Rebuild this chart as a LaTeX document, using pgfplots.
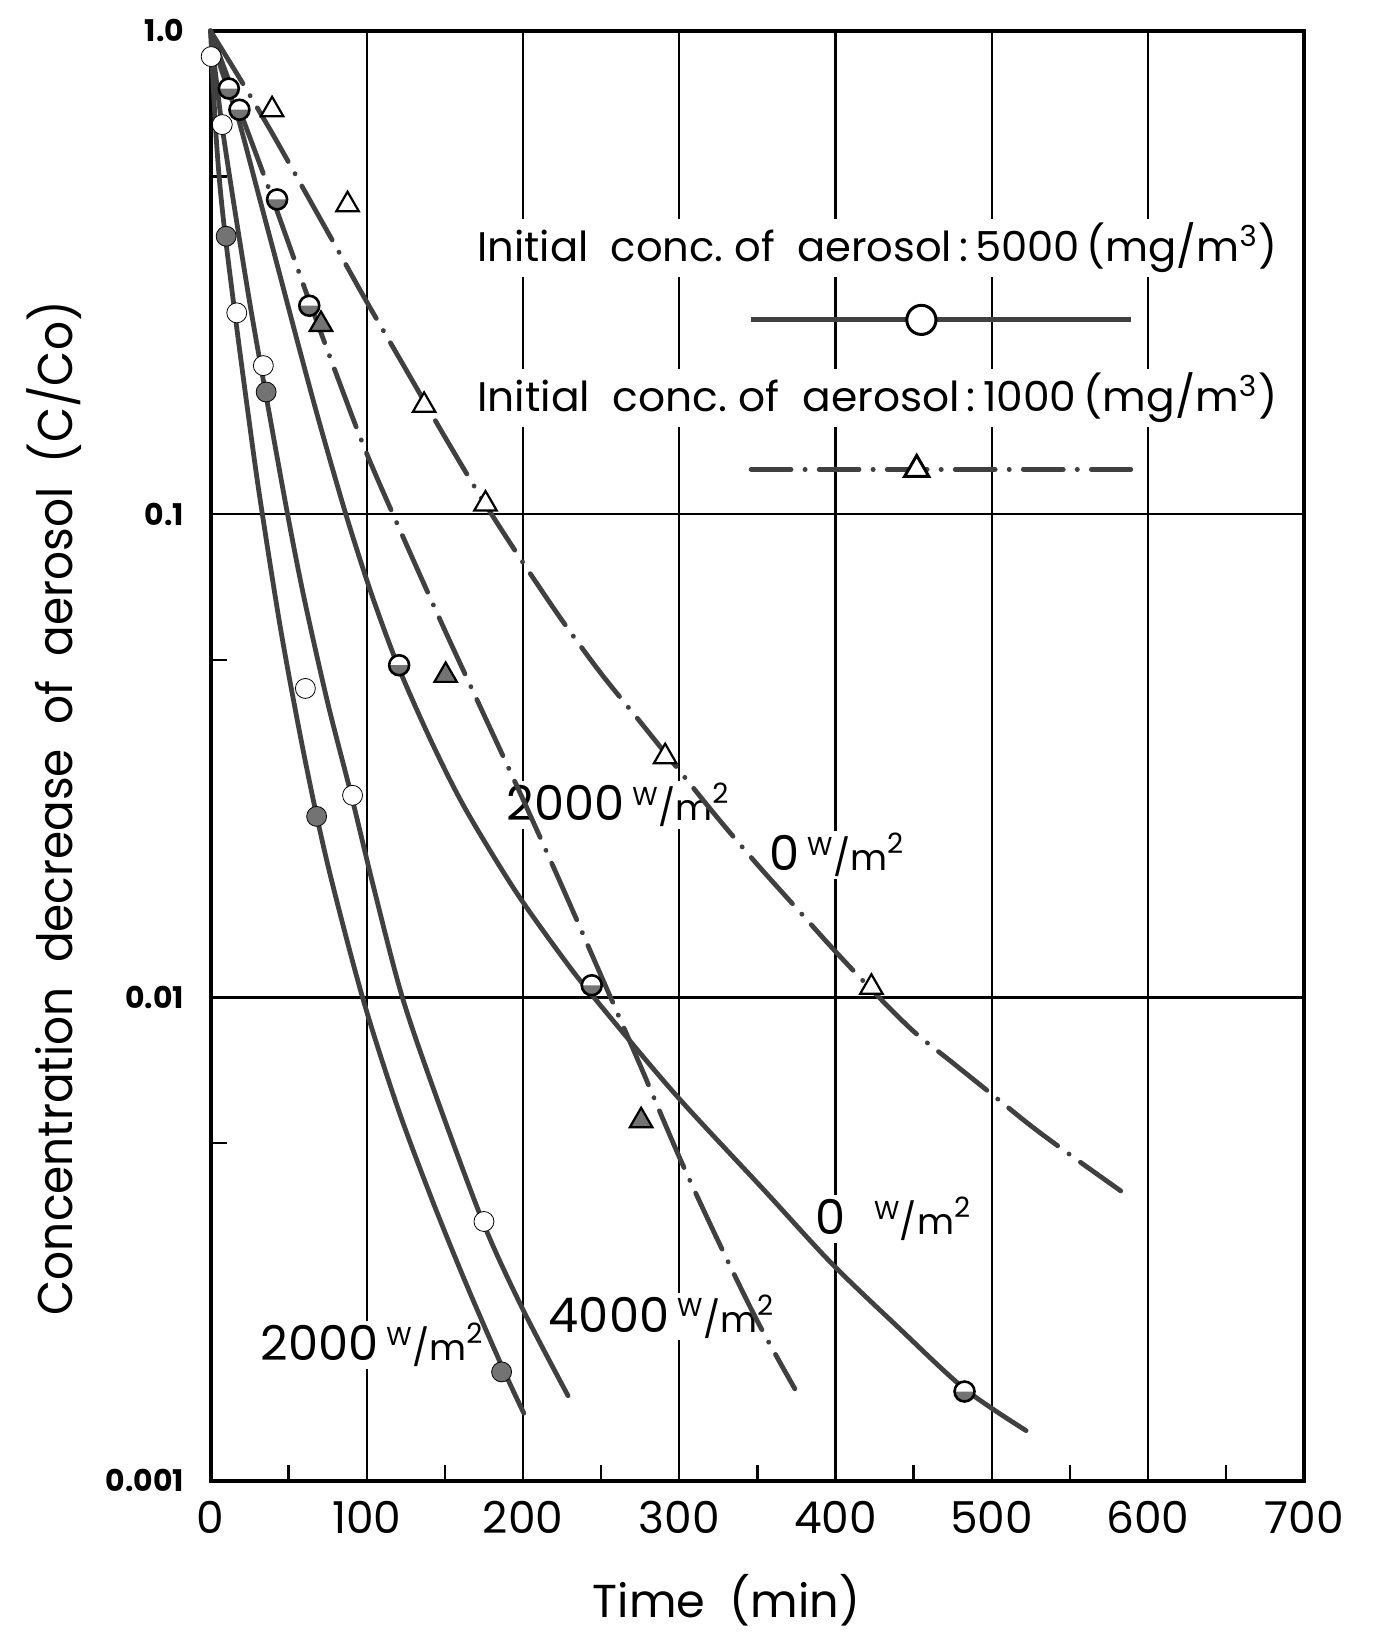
\documentclass[border=0pt]{standalone}
\usepackage{fontspec}
\setmainfont{Poppins}
\usepackage{graphicx}
\usepackage{pgfplots}
\pgfplotsset{compat=1.18}

% circle with the lower half shaded
\pgfdeclareplotmark{lowhalf}{%
  \begin{pgfscope}
  \pgfpathcircle{\pgfpointorigin}{\pgfplotmarksize}
  \pgfsetfillcolor{white}\pgfusepathqfill
  \pgfpathmoveto{\pgfpoint{-\pgfplotmarksize}{0pt}}
  \pgfpatharc{180}{360}{\pgfplotmarksize}
  \pgfpathclose
  \pgfsetfillcolor{black!55}\pgfusepathqfill
  \pgfpathcircle{\pgfpointorigin}{\pgfplotmarksize}
  \pgfusepathqstroke
  \end{pgfscope}}

\newcommand{\wm}{\raisebox{7.8pt}{\fontsize{13}{13}\selectfont W}\kern0.3pt{\fontsize{18}{18}\selectfont/m}\raisebox{8.5pt}{\fontsize{14}{14}\selectfont 2}}

\pgfplotsset{
  solidc/.style={black!75, line width=2.4pt, line cap=round, line join=round, smooth, tension=0.5},
  dashc/.style={black!75, line width=2.4pt, line cap=round, smooth, tension=0.5,
    dash pattern=on 31pt off 7pt on 0.1pt off 7pt},
  mk/.style={only marks, mark size=5pt, mark options={solid, draw=black, line width=1.3pt}},
}

\begin{document}
\begin{tikzpicture}
\begin{axis}[
  scale only axis, width=548pt, height=726.5pt,
  xmin=0, xmax=700, ymin=0.001, ymax=1, ymode=log,
  axis line style={line width=2pt},
  xtick={0,100,...,700}, xticklabels={0,100,200,300,400,500,600,700},
  minor xtick={50,150,...,650},
  ytick={0.001,0.01,0.1,1}, yticklabels={0.001,0.01,0.1,1.0},
  minor ytick={0.005,0.05,0.5},
  xtick pos=bottom, ytick pos=left, tick align=inside,
  major tick length=0pt, minor tick length=8pt,
  minor tick style={line width=1.2pt, black},
  grid=major, major grid style={black, line width=1.2pt},
  xticklabel style={font=\fontsize{22}{22}\selectfont, inner sep=0pt, yshift=-10pt},
  yticklabel style={font=\fontsize{15}{15}\selectfont\bfseries, inner sep=0pt, xshift=-13pt},
  clip=false,
]
\coordinate (sw) at (rel axis cs:0,0);
\coordinate (ne) at (rel axis cs:1,1);

% legend text and curve labels (white ground breaks the grid as in the original)
\node[anchor=base west, fill=white, inner sep=2pt] at (axis cs:168,0.333)
  {\resizebox{401pt}{19.5pt}{Initial~ conc.~of~ aerosol\,:\,5000\,(mg/m\textsuperscript{3})}};
\node[anchor=base west, fill=white, inner sep=2pt] at (axis cs:168,0.163)
  {\resizebox{401pt}{19.5pt}{Initial~ conc.~of~ aerosol\,:\,1000\,(mg/m\textsuperscript{3})}};

\node[anchor=base west, fill=white, inner sep=1pt, font=\fontsize{24}{24}\selectfont] at (axis cs:30.5,0.00177) {2000\,\wm};
\node[anchor=base west, fill=white, inner sep=1pt, font=\fontsize{24}{24}\selectfont] at (axis cs:215,0.00203) {4000\,\wm};
\node[anchor=base west, fill=white, inner sep=1pt, font=\fontsize{24}{24}\selectfont] at (axis cs:386,0.00323) {0\hspace{14pt}\wm};
\node[anchor=base west, fill=white, inner sep=1pt, font=\fontsize{24}{24}\selectfont] at (axis cs:188,0.0232) {2000\,\wm};
\node[anchor=base west, fill=white, inner sep=1pt, font=\fontsize{24}{24}\selectfont] at (axis cs:356,0.0183) {0\,\wm};

% 5000 mg/m3, 2000 W/m2 (leftmost)
\addplot[solidc] coordinates {
  (0,1.0) (3,0.646) (6,0.479) (10,0.363) (17,0.240) (24,0.162) (31.3,0.1096)
  (45,0.0575) (60,0.0316) (75,0.01884) (97.3,0.0100) (120,0.00589) (142,0.0038)
  (163.3,0.00257) (186,0.00174) (200.5,0.00138)};
% 5000 mg/m3, 4000 W/m2
\addplot[solidc] coordinates {
  (0,1.0) (4,0.776) (7.5,0.631) (15,0.437) (25,0.275) (35,0.180) (49.3,0.1)
  (60,0.0668) (75,0.0407) (90,0.0263) (105,0.0166) (122.8,0.0100) (145,0.00617)
  (175,0.00339) (200,0.00226) (228.8,0.0015)};
% 5000 mg/m3, 0 W/m2
\addplot[solidc] coordinates {
  (0,1.0) (6,0.851) (11.7,0.750) (18.5,0.646) (30,0.468) (44,0.316) (57,0.219)
  (69.6,0.155) (86.6,0.1) (103,0.0684) (120.7,0.0479) (142,0.0335) (163.3,0.0245)
  (195.2,0.0166) (227.1,0.01189) (248,0.00977) (297.4,0.00631) (354.8,0.00398)
  (397.4,0.00282) (440,0.00208) (482.6,0.00155) (522,0.00127)};
% 1000 mg/m3, 0 W/m2
\addplot[dashc] coordinates {
  (0,1.0) (20,0.785) (40,0.610) (60,0.468) (80,0.359) (100,0.275) (125,0.1995)
  (150,0.1445) (175,0.1059) (200,0.0794) (225,0.0603) (250,0.0468) (275,0.0372)
  (300,0.0295) (325,0.02344) (350,0.01884) (375,0.01531) (400,0.01245)
  (425,0.01023) (450,0.00851) (475,0.00733) (500,0.00631) (525,0.00543)
  (550,0.00473) (582.6,0.00398)};
% 1000 mg/m3, 2000 W/m2
\addplot[dashc] coordinates {
  (0,1.0) (20,0.668) (40,0.447) (60,0.295) (80,0.197) (100,0.1334) (125,0.0871)
  (150,0.0575) (175,0.03846) (200,0.0257) (225,0.01698) (250,0.01109)
  (275,0.00724) (300,0.00468) (325,0.00313) (350,0.00214) (374,0.00155)};

% measured points
\addplot[mk, mark=*, mark options={fill=white}] coordinates {
  (0.4,0.885) (7.5,0.64) (16.8,0.261) (33.8,0.203) (60.7,0.0436) (90.9,0.0262) (175,0.00344)};
\addplot[mk, mark=*, mark options={fill=black!55}] coordinates {
  (10,0.376) (35.6,0.179) (67.9,0.0237) (186.3,0.00168)};
\addplot[mk, mark=lowhalf] coordinates {
  (11.7,0.76) (18.5,0.687) (42.6,0.448) (63.2,0.27) (120.7,0.0487) (244,0.0106) (482.6,0.00153)};
\addplot[mk, mark=triangle*, mark size=6.5pt, mark options={fill=white, line width=1.1pt}] coordinates {
  (39.4,0.687) (87.7,0.437) (136.7,0.168) (176,0.105) (291,0.0315) (423,0.0105)};
\addplot[mk, mark=triangle*, mark size=6.5pt, mark options={fill=black!55, line width=1.1pt}] coordinates {
  (70.7,0.247) (150.5,0.0464) (275.6,0.00556)};

% legend samples
\addplot[black!75, line width=2.4pt, mark=*, mark indices={2}, mark size=7.3pt,
  mark options={solid, fill=white, draw=black, line width=1.5pt}]
  coordinates {(346,0.2524) (455,0.2524) (589,0.2524)};
\addplot[black!75, line width=2.4pt, line cap=round, dash pattern=on 20pt off 7pt on 0.1pt off 7pt,
  mark=triangle*, mark indices={2}, mark size=7pt,
  mark options={solid, fill=white, draw=black, line width=1.5pt}]
  coordinates {(346,0.1238) (452,0.1238) (589,0.1238)};
\end{axis}

\node[rotate=90] at ([shift={(-78.5pt,337pt)}]sw)
  {\resizebox{508pt}{23pt}{Concentration~ decrease~ of~ aerosol~ (C/Co)}};
\node at ([shift={(258.5pt,-60pt)}]sw) {\resizebox{134pt}{!}{Time~ (min)}};
\path ([shift={(-105.5pt,-74.5pt)}]sw) rectangle ([shift={(38pt,15.5pt)}]ne);
\end{tikzpicture}
\end{document}
